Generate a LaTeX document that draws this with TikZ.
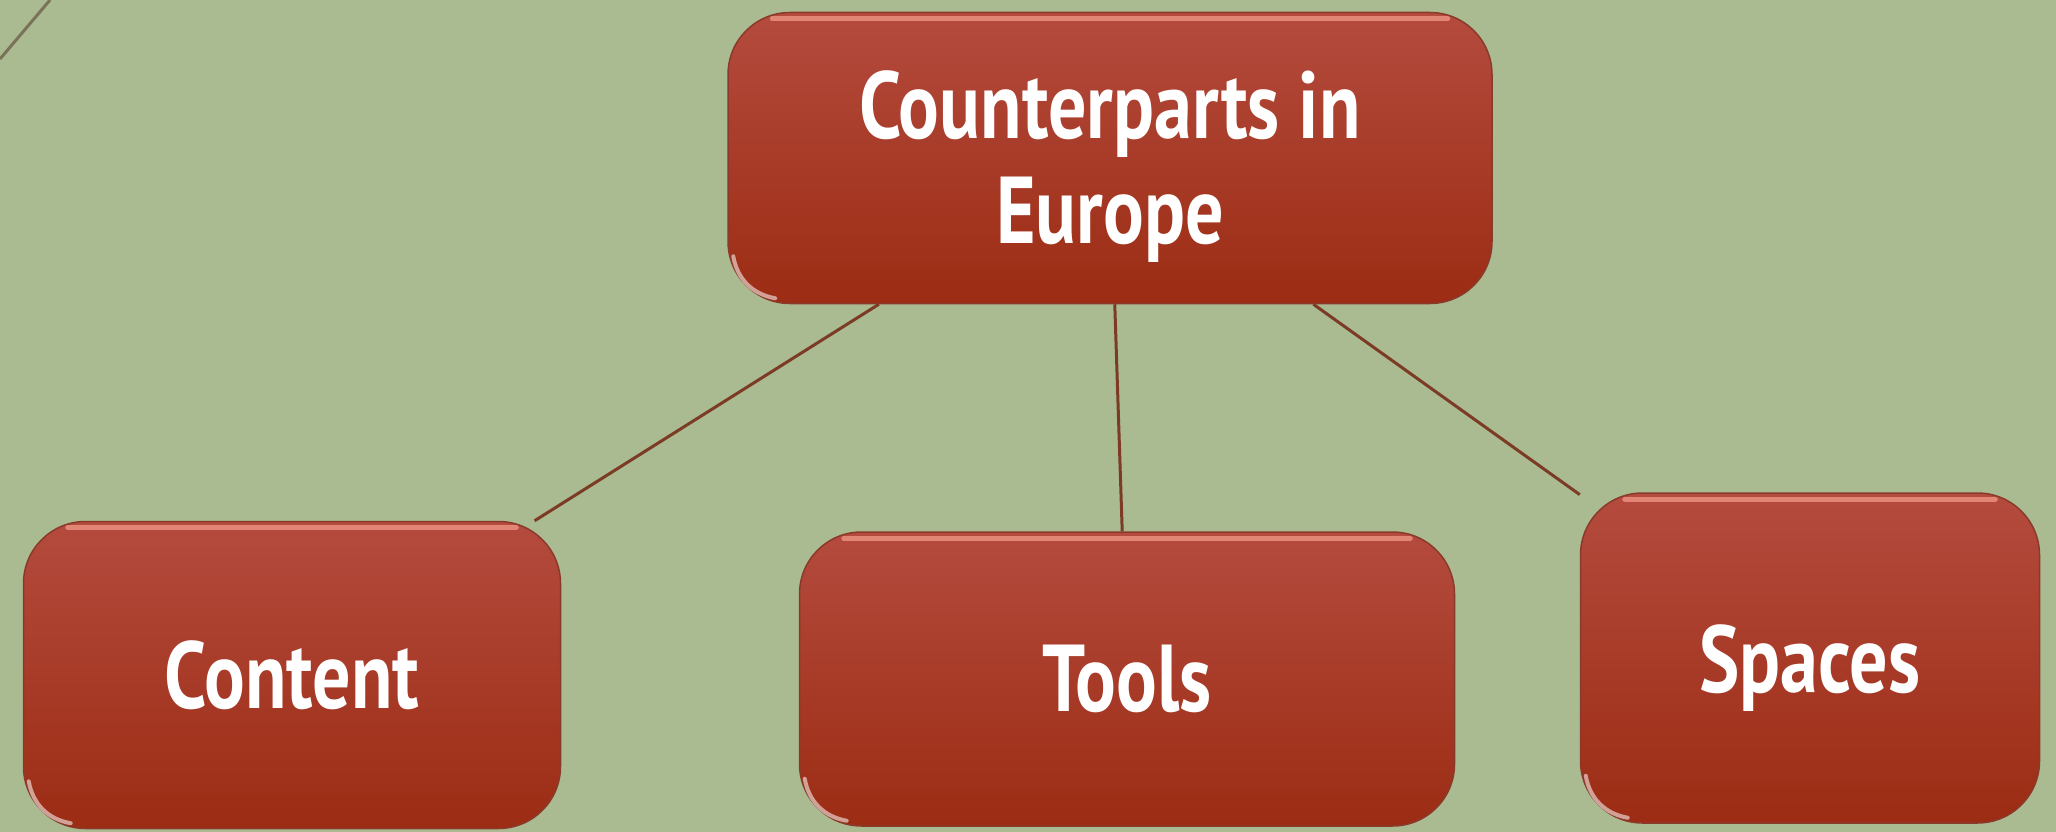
\documentclass[tikz,border=0pt]{standalone}
\usepackage{fontspec}
\setmainfont{PT Sans}[FakeStretch=0.8]
\definecolor{bg}{HTML}{ABBB91}
\definecolor{boxtop}{HTML}{B44B3E}
\definecolor{boxbot}{HTML}{9C2C13}
\definecolor{boxedge}{HTML}{8A3A2A}
\definecolor{linkc}{HTML}{7B3B24}
\definecolor{arcc}{HTML}{7A735A}
\definecolor{hlc}{HTML}{F29A8A}
\begin{document}
\begin{tikzpicture}[x=1pt,y=-1pt,
  boxnode/.style={draw=boxedge, line width=1.5pt, rounded corners=62pt,
    top color=boxtop, bottom color=boxbot, inner sep=0pt},
  boxtext/.style={text=white, align=center, inner sep=0pt,
    font=\fontsize{95}{105}\selectfont\bfseries},
  link/.style={draw=linkc, line width=3pt},
  hl/.style={draw=hlc, line width=5pt, line cap=round, opacity=0.75},
  glare/.style={draw=white, line width=4pt, line cap=round, opacity=0.55}]
\fill[bg] (0,0) rectangle (2056,832);
\useasboundingbox (0,0) rectangle (2056,832);
\draw[draw=arcc, line width=3pt] (0,59) -- (50,0);

\node[boxnode, minimum width=764pt, minimum height=291pt] (top) at (1110,158) {};
\node[boxnode, minimum width=537pt, minimum height=307pt] (content) at (292,675) {};
\node[boxnode, minimum width=655pt, minimum height=294pt] (tools) at (1127,679) {};
\node[boxnode, minimum width=459pt, minimum height=330pt] (spaces) at (1810,658) {};

\node[boxtext] (toplabel) at ([yshift=-9pt]top.center) {Counterparts in\\Europe};
\node[boxtext] (contentlabel) at (content.center) {Content};
\node[boxtext] (toolslabel) at (tools.center) {Tools};
\node[boxtext] (spaceslabel) at ([yshift=-10pt]spaces.center) {Spaces};

\foreach \n in {top,content,tools,spaces}{
  \draw[hl] ([shift={(45,7)}]\n.north west) -- ([shift={(-45,7)}]\n.north east);
  \draw[glare] ([shift={(6,-48)}]\n.south west) to[bend right=35] ([shift={(48,-6)}]\n.south west);
}

\draw[link] (top) -- (content);
\draw[link] (top) -- (tools);
\draw[link] (top) -- (spaces);
\end{tikzpicture}
\end{document}
